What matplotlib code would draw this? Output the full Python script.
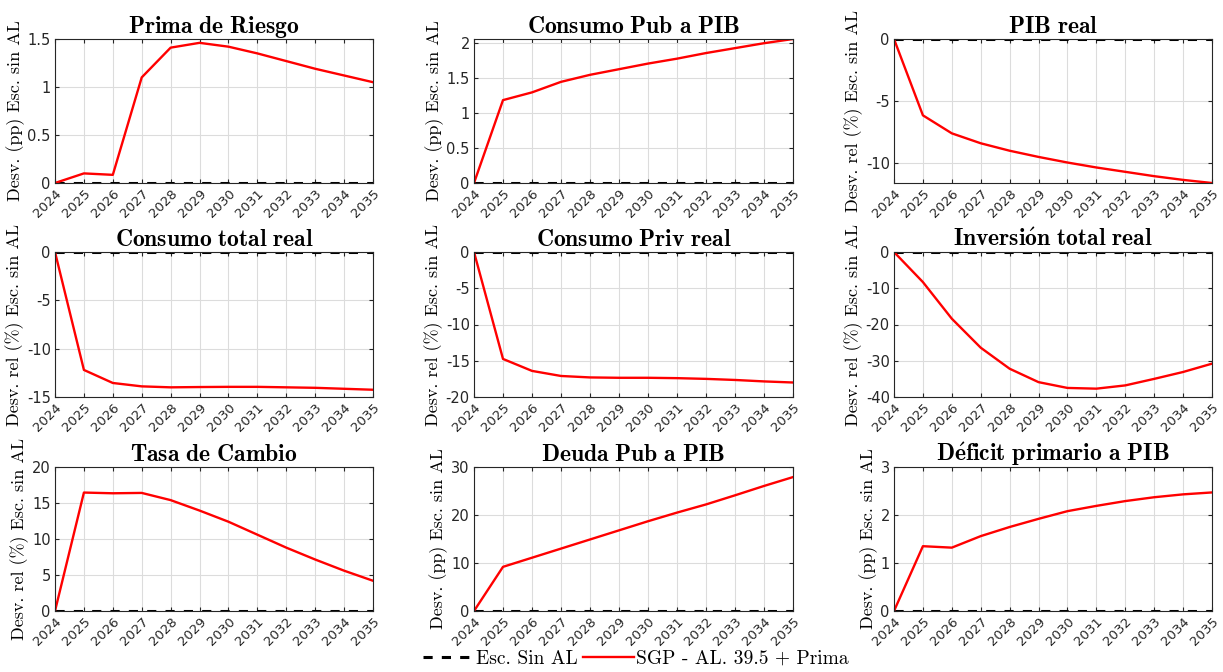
import matplotlib
matplotlib.use("Agg")
import matplotlib.pyplot as plt
import numpy as np

# ---------------------------------
# DATA
# ---------------------------------

years = list(range(2024, 2036))

titles = [
    "Prima de Riesgo", "Consumo Pub a PIB", "PIB real",
    "Consumo total real", "Consumo Priv real", "Inversión total real",
    "Tasa de Cambio", "Deuda Pub a PIB", "Déficit primario a PIB",
]

ylabels = [
    "Desv. (pp) Esc. sin AL", "Desv. (pp) Esc. sin AL", "Desv. rel (%) Esc. sin AL",
    "Desv. rel (%) Esc. sin AL", "Desv. rel (%) Esc. sin AL", "Desv. rel (%) Esc. sin AL",
    "Desv. rel (%) Esc. sin AL", "Desv. (pp) Esc. sin AL", "Desv. (pp) Esc. sin AL",
]

prima = [0, 0.10, 0.085, 1.10, 1.41, 1.46, 1.42, 1.35, 1.27, 1.19, 1.12, 1.05]
cons_pub = [0, 1.18, 1.29, 1.44, 1.54, 1.62, 1.70, 1.77, 1.85, 1.92, 1.99, 2.05]
pib = [0, -6.15, -7.6, -8.4, -9.0, -9.5, -9.95, -10.35, -10.7, -11.05, -11.35, -11.6]
cons_tot = [0, -12.2, -13.55, -13.9, -14.0, -13.97, -13.95, -13.95, -14.0, -14.05, -14.15, -14.25]
cons_priv = [0, -14.75, -16.4, -17.1, -17.3, -17.35, -17.35, -17.4, -17.5, -17.65, -17.85, -18.0]
inversion = [0, -8.3, -18.4, -26.4, -32.2, -35.9, -37.5, -37.7, -36.8, -35.0, -33.1, -30.8]
tasa = [0, 16.45, 16.35, 16.4, 15.4, 13.95, 12.4, 10.6, 8.8, 7.15, 5.6, 4.2]
deuda = [0, 9.2, 11.1, 13.0, 14.9, 16.8, 18.7, 20.5, 22.2, 24.1, 26.05, 27.9]
deficit = [0, 1.35, 1.32, 1.56, 1.75, 1.92, 2.08, 2.19, 2.29, 2.37, 2.43, 2.47]

series = [prima, cons_pub, pib, cons_tot, cons_priv, inversion, tasa, deuda, deficit]

ylims = [(0, 1.5), (0, 2.05), (-11.6, 0), (-15, 0), (-20, 0), (-40, 0),
         (0, 20), (0, 30), (0, 3)]
yticks = [[0, 0.5, 1, 1.5], [0, 0.5, 1, 1.5, 2], [-10, -5, 0], [-15, -10, -5, 0],
          [-20, -15, -10, -5, 0], [-40, -30, -20, -10, 0], [0, 5, 10, 15, 20],
          [0, 10, 20, 30], [0, 1, 2, 3]]

base_label = "Esc. Sin AL"
scen_label = "SGP - AL. 39.5 + Prima"

# ---------------------------------
# PLOT
# ---------------------------------

plt.rcParams["mathtext.fontset"] = "cm"
SERIF = ["cmr10", "DejaVu Serif"]
TICKC = "#262626"


def bold_cm(text):
    # render in Computer Modern bold via mathtext (handles the accents)
    text = text.replace("ó", r"\acute{o}").replace("é", r"\acute{e}")
    return r"$\mathbf{" + text.replace(" ", r"\ ") + "}$"


fig = plt.figure(figsize=(12.23, 6.72), dpi=100)

col_left = [55, 474, 894]
col_right = [373, 793, 1212]
row_top = [39, 252, 467]
row_bot = [183, 397, 611]
W, H = 1223.0, 672.0

for i in range(9):
    r, c = divmod(i, 3)
    ax = fig.add_axes([col_left[c] / W, 1 - row_bot[r] / H,
                       (col_right[c] - col_left[c]) / W,
                       (row_bot[r] - row_top[r]) / H])
    h_base, = ax.plot(years, np.zeros(len(years)), "--", color="black",
                      lw=2.2, label=base_label, dashes=(3, 3))
    h_scen, = ax.plot(years, series[i], "-", color="red", lw=1.7,
                      label=scen_label)
    ax.set_xlim(2024, 2035)
    ax.set_ylim(*ylims[i])
    ax.set_xticks(years)
    ax.set_xticklabels([str(y) for y in years], rotation=45, ha="right",
                       rotation_mode="anchor", fontsize=9.5, color=TICKC)
    ax.set_yticks(yticks[i])
    ax.set_yticklabels([f"{v:g}" for v in yticks[i]],
                       fontsize=10.5, color=TICKC)
    ax.tick_params(direction="in", top=True, right=True, length=3,
                   color=TICKC, pad=3)
    ax.tick_params(axis="x", pad=3)
    ax.grid(True, color="#dcdcdc", lw=0.8)
    ax.set_axisbelow(True)
    for s in ax.spines.values():
        s.set_color(TICKC)
        s.set_linewidth(0.8)
    ax.set_title(bold_cm(titles[i]), fontsize=17, pad=4)
    ax.set_ylabel(ylabels[i], family=SERIF, fontsize=13, labelpad=2)

fig.legend([h_base, h_scen], [base_label, scen_label], loc="lower center",
           ncol=2, frameon=False, prop={"family": SERIF, "size": 14},
           handlelength=2.6, handletextpad=0.1, columnspacing=0.3,
           bbox_to_anchor=(0.52, -0.02))

fig.savefig("out.png", dpi=100)
